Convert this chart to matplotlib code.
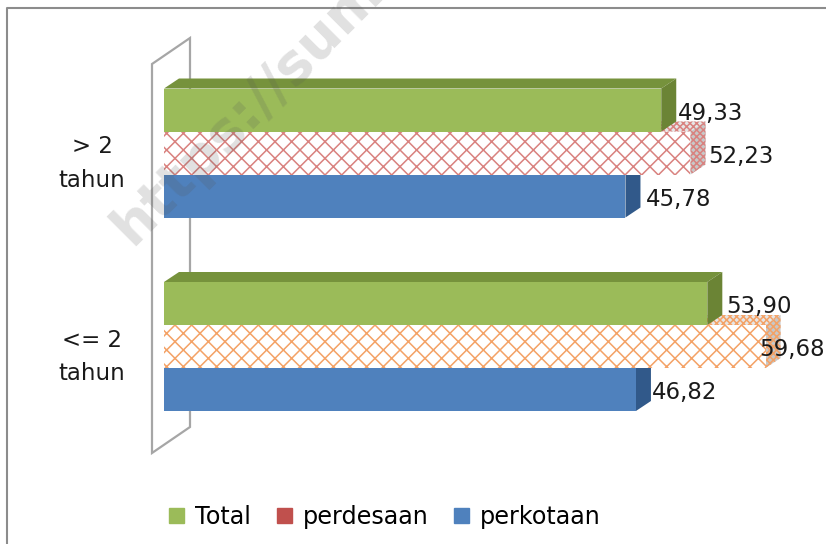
import matplotlib
matplotlib.use("Agg")
import matplotlib.pyplot as plt
from matplotlib.patches import Patch, Polygon

W, H = 826, 544
FONTSIZE = 16.5

categories = ["<= 2\ntahun", "> 2\ntahun"]
total = [53.90, 49.33]
perdesaan = [59.68, 52.23]
perkotaan = [46.82, 45.78]

GREEN, GREEN_TOP, GREEN_SIDE = "#9BBB59", "#76923C", "#6B8435"
BLUE, BLUE_SIDE = "#4F81BD", "#31598A"
RED = "#C0504D"
HATCH_COLORS = ["#F4A266", "#D9827F"]

plt.rcParams["hatch.linewidth"] = 1.1

# px helper, image coords (y down) to figure fraction
def px(x, y):
    return x / W, 1 - y / H

fig = plt.figure(figsize=(W / 100, H / 100), dpi=100)
ax = fig.add_axes([0, 0, 1, 1])

# x: 0 sits at 164 px, 10.08 px per unit. y: categories 193.5 px apart
PX_X = 10.08
PX_Y = 193.5
ax.set_xlim(-164 / PX_X, (W - 164) / PX_X)
ax.set_ylim(-(H - 346.5) / PX_Y, 346.5 / PX_Y)
ax.axis("off")

BAR_H = 43 / PX_Y
DX = 15 / PX_X
DY = 10 / PX_Y


def box(y, value, face, top, side, z, hatch=None, hatch_color=None):
    y0, y1 = y - BAR_H / 2, y + BAR_H / 2
    if hatch:
        kw = dict(facecolor="white", edgecolor=hatch_color, hatch=hatch, linewidth=0)
        kw_side = dict(facecolor=side, edgecolor=hatch_color, hatch="xxxxx", linewidth=0)
        kw_top = dict(facecolor=top, edgecolor=hatch_color, hatch="xxxxx", linewidth=0)
    else:
        kw = dict(facecolor=face, edgecolor="none")
        kw_side = dict(facecolor=side, edgecolor="none")
        kw_top = dict(facecolor=top, edgecolor="none")
    ax.add_patch(Polygon([(0, y1), (DX, y1 + DY), (value + DX, y1 + DY), (value, y1)], zorder=z, **kw_top))
    ax.add_patch(Polygon([(value, y0), (value + DX, y0 + DY), (value + DX, y1 + DY), (value, y1)], zorder=z, **kw_side))
    ax.barh(y, value, height=BAR_H, zorder=z, **kw)


# side wall behind the bars
wall = Polygon([px(152, 64), px(190, 38), px(190, 427), px(152, 453)], closed=True,
               transform=fig.transFigure, facecolor="white", edgecolor="#A6A6A6", linewidth=1.6, zorder=1)
ax.add_patch(wall)

gap = BAR_H
label_dx = [[19, -6, 16], [17, 18, 20]]
for i, cat in enumerate(categories):
    rows = [
        (i + gap, total[i], GREEN, GREEN_TOP, GREEN_SIDE, None, None),
        (i, perdesaan[i], "white", "#E6E6E6", "#C8C8C8", "xx", HATCH_COLORS[i]),
        (i - gap, perkotaan[i], BLUE, BLUE_SIDE, BLUE_SIDE, None, None),
    ]
    for j, (y, value, face, top, side, hatch, hc) in enumerate(rows):
        # lower rows first, the row above covers their top face
        box(y, value, face, top, side, 4 - j, hatch, hc)
        ax.text(value + label_dx[i][j] / PX_X, y - 3 / PX_Y, f"{value:.2f}".replace(".", ","),
                fontsize=FONTSIZE, color="#1A1A1A", va="center", ha="left", zorder=6)
    ax.text(-72 / PX_X, i - 10.5 / PX_Y, cat, fontsize=FONTSIZE, color="#1A1A1A", ha="center", va="center",
            linespacing=1.6, zorder=6)

handles = [Patch(color=GREEN, label="Total"), Patch(color=RED, label="perdesaan"),
           Patch(color=BLUE, label="perkotaan")]
ax.legend(handles=handles, ncol=3, frameon=False, fontsize=17.2, loc="center",
          bbox_to_anchor=px(385, 517), bbox_transform=fig.transFigure,
          handlelength=0.62, handleheight=0.62, handletextpad=0.45, columnspacing=1.1)

# chart frame
fig.add_artist(plt.Line2D([7.5 / W, 7.5 / W, 1], [0, 1 - 8 / H, 1 - 8 / H], color="#8C8C8C", linewidth=1.5))

# watermark
x0, y0 = px(132, 247)
fig.text(x0, y0, "https://sum", rotation=45, rotation_mode="anchor", fontsize=40, fontweight="bold",
         color="#555555", alpha=0.18, ha="left", va="baseline", zorder=10)

fig.savefig("out.png", dpi=100)
